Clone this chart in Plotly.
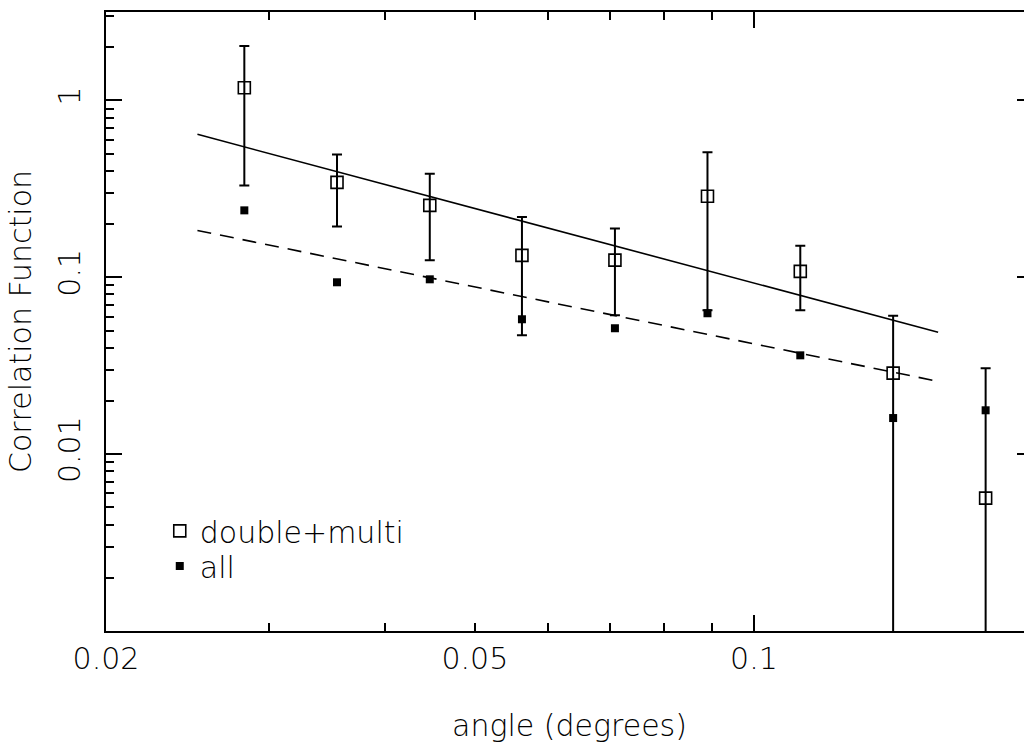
import math
import plotly.graph_objects as go

# ---- data ----
angle = [0.0282, 0.0355, 0.0447, 0.0562, 0.0708, 0.0891, 0.1122, 0.1413, 0.1778]
w_double_multi = [1.18, 0.344, 0.255, 0.133, 0.125, 0.287, 0.108, 0.0287, 0.00564]
w_double_multi_err = [0.85, 0.15, 0.13, 0.086, 0.064, 0.222, 0.043, 0.032, 0.025]
w_all = [0.239, 0.0937, 0.0974, 0.0579, 0.0515, 0.0626, 0.0362, 0.0160, 0.0177]

fit_angle = [0.0251, 0.158]
fit_double_multi = [0.643, 0.0489]
fit_all = [0.184, 0.0258]

x_tickvals = [0.02, 0.05, 0.1]
x_ticktext = ["0.02", "0.05", "0.1"]
x_minor_vals = [0.03, 0.04, 0.06, 0.07, 0.08, 0.09]
x_major_long = [0.1]
y_tickvals = [0.001, 0.01, 0.1, 1]
y_ticktext = ["", "0.01", "0.1", "1"]
y_minor_vals = [0.002, 0.003, 0.004, 0.005, 0.006, 0.007, 0.008, 0.009,
                0.02, 0.03, 0.04, 0.05, 0.06, 0.07, 0.08, 0.09,
                0.2, 0.3, 0.4, 0.5, 0.6, 0.7, 0.8, 0.9, 2, 3]

x_range = [0.02, 0.2]
y_range = [0.001, 10 ** 0.5]

FONT = "DejaVu Sans"
FS = 30
TXT = dict(family=FONT, size=FS, color="black", weight=200)

fig = go.Figure()

fig.add_trace(go.Scatter(
    x=fit_angle, y=fit_double_multi, mode="lines",
    line=dict(color="black", width=1.6), showlegend=False, hoverinfo="skip"))
fig.add_trace(go.Scatter(
    x=fit_angle, y=fit_all, mode="lines",
    line=dict(color="black", width=1.6, dash="14px,9px"), showlegend=False, hoverinfo="skip"))

fig.add_trace(go.Scatter(
    x=angle, y=w_double_multi, mode="markers", name="double+multi", legend="legend",
    marker=dict(symbol="square-open", size=12, color="black", line=dict(width=1.6, color="black")),
    error_y=dict(type="data", array=w_double_multi_err, symmetric=True,
                 color="black", thickness=2, width=5)))
fig.add_trace(go.Scatter(
    x=angle, y=w_all, mode="markers", name="all", legend="legend2",
    marker=dict(symbol="square", size=8, color="black")))

# helper trace so that the long-tick overlay axis is drawn
fig.add_trace(go.Scatter(x=[], y=[], xaxis="x2", yaxis="y", showlegend=False, hoverinfo="skip"))

axis_common = dict(showgrid=False, zeroline=False, showline=True, linecolor="black",
                   linewidth=2, mirror="ticks", ticks="inside", tickcolor="black",
                   tickwidth=2)

legend_common = dict(xanchor="left", yanchor="top", bgcolor="rgba(0,0,0,0)",
                     font=TXT, itemwidth=30)

fig.update_layout(
    width=1041, height=744,
    margin=dict(l=106, r=6, t=12, b=113),
    paper_bgcolor="white", plot_bgcolor="white",
    font=TXT,
    xaxis=dict(type="log", range=[math.log10(v) for v in x_range], autorange=False,
               tickvals=x_tickvals, ticktext=x_ticktext, ticklen=8,
               tickfont=TXT,
               minor=dict(tickvals=x_minor_vals, ticks="inside", ticklen=8,
                          tickwidth=2, tickcolor="black", showgrid=False),
               title=dict(text="angle (degrees)", standoff=40, font=TXT),
               **axis_common),
    xaxis2=dict(type="log", range=[math.log10(v) for v in x_range], autorange=False,
                overlaying="x", anchor="y", side="bottom",
                tickvals=x_major_long, ticklen=16, showticklabels=False,
                **axis_common),
    yaxis=dict(type="log", range=[math.log10(v) for v in y_range], autorange=False,
               tickvals=y_tickvals, ticktext=y_ticktext, ticklen=16, tickangle=-90,
               tickfont=TXT, ticklabelstandoff=12,
               minor=dict(tickvals=y_minor_vals, ticks="inside", ticklen=8,
                          tickwidth=2, tickcolor="black", showgrid=False),
               title=dict(text="Correlation Function", standoff=12, font=TXT),
               **axis_common),
    legend=dict(x=0.058, y=0.2037, **legend_common),
    legend2=dict(x=0.058, y=0.1471, **legend_common),
    showlegend=True,
)

fig.write_html("out.html")
